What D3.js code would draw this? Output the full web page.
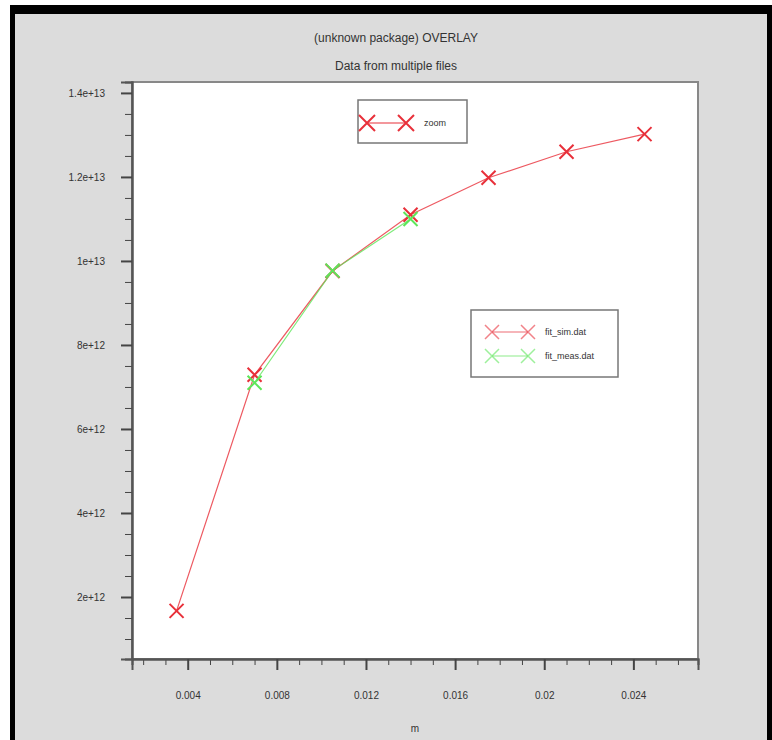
<!DOCTYPE html>
<html>
<head>
<meta charset="utf-8">
<script src="https://cdn.jsdelivr.net/npm/d3@7"></script>
<style>
  html, body { margin: 0; padding: 0; background: #fff; }
  text { font-family: "Liberation Sans Narrow", "Arial Narrow", "Liberation Sans", sans-serif; fill: #333; }
</style>
</head>
<body>
<div id="chart"></div>
<script>
// data
const simX = [0.0035, 0.007, 0.0105, 0.014, 0.0175, 0.021, 0.0245];
const simY = [1.67e12, 7.29e12, 9.76e12, 11.1e12, 11.98e12, 12.6e12, 13.02e12];
const measX = [0.007, 0.0105, 0.014];
const measY = [7.1e12, 9.77e12, 11.0e12];
const xTicks = [0.004, 0.008, 0.012, 0.016, 0.02, 0.024];
const xTickLabels = ["0.004", "0.008", "0.012", "0.016", "0.02", "0.024"];
const yTicks = [2e12, 4e12, 6e12, 8e12, 10e12, 12e12, 14e12];
const yTickLabels = ["2e+12", "4e+12", "6e+12", "8e+12", "1e+13", "1.2e+13", "1.4e+13"];
const titles = ["(unknown package) OVERLAY", "Data from multiple files"];
const legendNames = ["fit_sim.dat", "fit_meas.dat"];

const W = 772, H = 740;
const red = "#e8303a", green = "#5ee65a";

const svg = d3.select("#chart").append("svg")
  .attr("width", W).attr("height", H);

// window frame
svg.append("rect").attr("x", 10).attr("y", 5).attr("width", W - 10).attr("height", H)
  .attr("fill", "#000");
svg.append("rect").attr("x", 15).attr("y", 14).attr("width", W - 20).attr("height", H)
  .attr("fill", "#dcdcdc");

const plot = { left: 132, right: 698, top: 82, bottom: 659 };

const x = d3.scaleLinear().domain([0.0015, 0.0269]).range([plot.left, plot.right]);
const y = d3.scaleLinear().domain([0.524e12, 14.26e12]).range([plot.bottom, plot.top]);

svg.append("rect")
  .attr("x", plot.left).attr("y", plot.top)
  .attr("width", plot.right - plot.left).attr("height", plot.bottom - plot.top)
  .attr("fill", "#fff").attr("stroke", "#888").attr("stroke-width", 2);

// titles
svg.selectAll("text.title").data(titles).join("text")
  .attr("class", "title")
  .attr("x", 396).attr("y", (d, i) => 42 + i * 28)
  .attr("text-anchor", "middle").attr("font-size", 12)
  .text(d => d);

// axes
const xMinor = d3.range(0.002, 0.0265, 0.001).filter(v => !xTicks.some(t => Math.abs(t - v) < 1e-9));
const yMinor = d3.range(1e12, 14.2e12, 0.5e12).filter(v => !yTicks.some(t => Math.abs(t - v) < 1));

const xAxis = svg.append("g").attr("transform", `translate(0,${plot.bottom})`);
xAxis.call(d3.axisBottom(x).tickValues(xMinor).tickSize(6).tickFormat(""));
xAxis.append("g").call(d3.axisBottom(x).tickValues(xTicks).tickSize(11)
  .tickFormat((d, i) => xTickLabels[i]).tickPadding(22));
xAxis.selectAll("path.domain").attr("stroke", "#555").attr("stroke-width", 2);
xAxis.selectAll("line").attr("stroke", "#444");
xAxis.selectAll(".tick").filter(d => xTicks.includes(d)).select("line").attr("stroke-width", 2);
xAxis.selectAll("text").attr("font-size", 10).attr("fill", "#333")
  .style("font-family", "'Liberation Sans Narrow', 'Liberation Sans', sans-serif");

const yAxis = svg.append("g").attr("transform", `translate(${plot.left},0)`);
yAxis.call(d3.axisLeft(y).tickValues(yMinor).tickSize(7).tickFormat(""));
yAxis.append("g").call(d3.axisLeft(y).tickValues(yTicks).tickSize(11)
  .tickFormat((d, i) => yTickLabels[i]).tickPadding(16));
yAxis.selectAll("path.domain").attr("stroke", "#555").attr("stroke-width", 2);
yAxis.selectAll("line").attr("stroke", "#444");
yAxis.selectAll(".tick").filter(d => yTicks.includes(d)).select("line").attr("stroke-width", 2);
yAxis.selectAll("text").attr("font-size", 10).attr("fill", "#333")
  .style("font-family", "'Liberation Sans Narrow', 'Liberation Sans', sans-serif");

svg.append("text").attr("x", (plot.left + plot.right) / 2).attr("y", 732)
  .attr("text-anchor", "middle").attr("font-size", 10).text("m");

// series
function crossPath(r) {
  return `M${-r},${-r}L${r},${r}M${-r},${r}L${r},${-r}`;
}
const line = d3.line().x(d => x(d[0])).y(d => y(d[1]));

function drawSeries(xs, ys, color) {
  const pts = xs.map((v, i) => [v, ys[i]]);
  const g = svg.append("g");
  g.append("path").datum(pts).attr("d", line)
    .attr("fill", "none").attr("stroke", color).attr("stroke-width", 1.2).attr("opacity", 0.8);
  g.selectAll("path.mk").data(pts).join("path").attr("class", "mk")
    .attr("transform", d => `translate(${x(d[0])},${y(d[1])})`)
    .attr("d", crossPath(7))
    .attr("stroke", color).attr("stroke-width", 2).attr("fill", "none");
}
drawSeries(simX, simY, red);
drawSeries(measX, measY, green);

// legend: zoom
const lg1 = svg.append("g");
lg1.append("rect").attr("x", 358).attr("y", 100).attr("width", 109).attr("height", 43)
  .attr("fill", "#fff").attr("stroke", "#777").attr("stroke-width", 1.5);
lg1.append("line").attr("x1", 367).attr("x2", 406).attr("y1", 123).attr("y2", 123)
  .attr("stroke", red).attr("stroke-width", 1.2);
lg1.selectAll("path").data([367, 406]).join("path")
  .attr("transform", d => `translate(${d},123)`).attr("d", crossPath(8))
  .attr("stroke", red).attr("stroke-width", 2).attr("fill", "none");
lg1.append("text").attr("x", 424).attr("y", 126).attr("font-size", 9).text("zoom");

// legend: files
const lg2 = svg.append("g");
lg2.append("rect").attr("x", 471).attr("y", 310).attr("width", 147).attr("height", 67)
  .attr("fill", "#fff").attr("stroke", "#777").attr("stroke-width", 1.5);
const entries = lg2.selectAll("g").data(legendNames).join("g")
  .attr("transform", (d, i) => `translate(0,${332 + i * 24})`);
entries.append("line").attr("x1", 492).attr("x2", 528).attr("y1", 0).attr("y2", 0)
  .attr("stroke", (d, i) => i ? green : red).attr("stroke-width", 1.2).attr("opacity", 0.7);
entries.selectAll("path").data((d, i) => [[492, i], [528, i]]).join("path")
  .attr("transform", d => `translate(${d[0]},0)`).attr("d", crossPath(7))
  .attr("stroke", d => d[1] ? green : red).attr("stroke-width", 1.5).attr("opacity", 0.6).attr("fill", "none");
entries.append("text").attr("x", 545).attr("y", 3).attr("font-size", 9).text(d => d);
</script>
</body>
</html>
